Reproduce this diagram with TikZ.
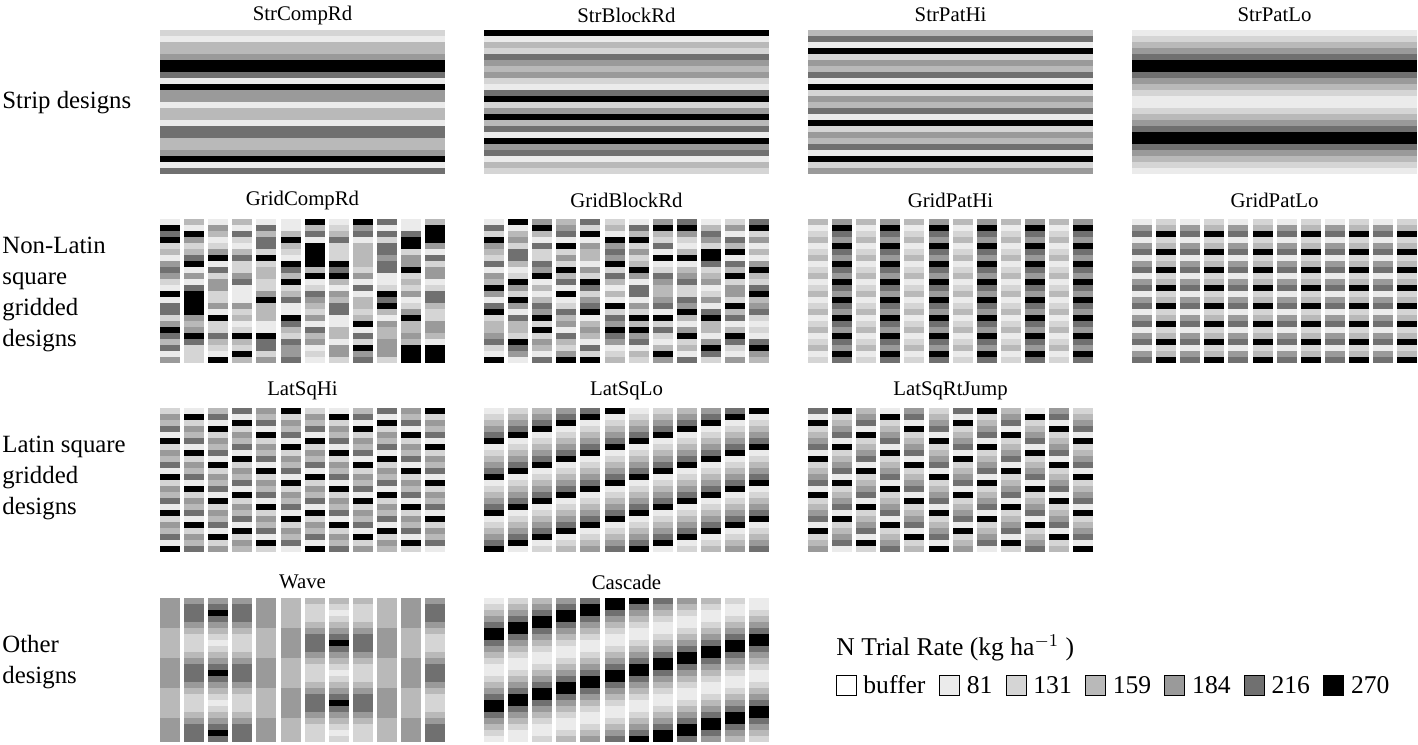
\documentclass[tikz,border=0pt]{standalone}
\usepackage{fontspec}
\setmainfont{Liberation Serif}
\definecolor{g0}{HTML}{FFFFFF}
\definecolor{g1}{HTML}{EBEBEB}
\definecolor{g2}{HTML}{D5D5D5}
\definecolor{g3}{HTML}{B9B9B9}
\definecolor{g4}{HTML}{9A9A9A}
\definecolor{g5}{HTML}{707070}
\definecolor{g6}{HTML}{000000}
\newcount\rowidx
\def\pcolloop#1{\ifx\relax#1\else\fill[fill=g#1] (\px,\py+6*\the\rowidx) rectangle ++(\pw,6.05);\global\advance\rowidx by 1\relax\expandafter\pcolloop\fi}
\newcommand\pcol[4]{\def\px{#1}\def\py{#2}\def\pw{#3}\global\rowidx=0 \edef\pcollist{#4}\expandafter\pcolloop\pcollist\relax}
\newcommand\gridpanel[3]{\foreach \s [count=\c from 0] in {#3} {\pcol{#1+24.1*\c}{#2}{20}{\s}}}
\tikzset{
  ttl/.style={font=\fontsize{10.4}{12}\selectfont, inner sep=0pt},
  side/.style={font=\fontsize{12.4}{15.5}\selectfont, align=left, anchor=west, inner sep=0pt},
  lbox/.style={draw=black, line width=0.5pt, minimum width=10pt, minimum height=10pt, inner sep=0pt},
  ltxt/.style={font=\fontsize{12.8}{14}\selectfont, anchor=west, inner sep=0pt}
}
\begin{document}
\begin{tikzpicture}[x=0.5pt,y=-0.5pt]
\fill[white] (0,0) rectangle (1418,744);
\useasboundingbox (0,0) rectangle (1418,744);
% ---------- row 1: strip designs
\pcol{160}{30}{285}{213346651644133155334615}
\pcol{484}{30}{285}{613254342156246351645132}
\pcol{808}{30}{285}{351624351624351624351624}
\pcol{1132}{30}{285}{123456654321123456654321}
% ---------- row 2
\gridpanel{160}{219}{165623145421615524653514,316423561415666643465222,143124615244224162253216,315213522451114231263263,153552623322463331165524,113632165362351165325445,635166663612543241534121,123522265631435511331442,645133332415133236152645,515255455112656314334442,115662446232412463343666,366641524412553224431666}
\gridpanel{484}{219}{152643251436415623345216,613425531264264153326541,463152254613135462624315,345162426351612534153246,526143314265245613431526,231645462531316254654123,153624236415514263645132,463251612543345162521364,564213613452254631462315,135426652341241563314652,241536153624426351365214,562413146325634521215643}
\gridpanel{808}{219}{312312312312312312312312,465465465465465465465465,312312312312312312312312,465465465465465465465465,312312312312312312312312,465465465465465465465465,312312312312312312312312,465465465465465465465465,312312312312312312312312,465465465465465465465465,312312312312312312312312,465465465465465465465465}
\gridpanel{1132}{219}{145145145145145145145145,236236236236236236236236,145145145145145145145145,236236236236236236236236,145145145145145145145145,236236236236236236236236,145145145145145145145145,236236236236236236236236,145145145145145145145145,236236236236236236236236,145145145145145145145145,236236236236236236236236}
% ---------- row 3
\gridpanel{160}{408}{243516243516243516243516,162435162435162435162435,351624351624351624351624,516243516243516243516243,435162435162435162435162,624351624351624351624351,243516243516243516243516,162435162435162435162435,351624351624351624351624,516243516243516243516243,435162435162435162435162,624351624351624351624351}
\gridpanel{484}{408}{123456123456123456123456,234561234561234561234561,345612345612345612345612,456123456123456123456123,561234561234561234561234,612345612345612345612345,123456123456123456123456,234561234561234561234561,345612345612345612345612,456123456123456123456123,561234561234561234561234,612345612345612345612345}
\gridpanel{808}{408}{516234516234516234516234,623451623451623451623451,345162345162345162345162,162345162345162345162345,451623451623451623451623,234516234516234516234516,516234516234516234516234,623451623451623451623451,345162345162345162345162,162345162345162345162345,451623451623451623451623,234516234516234516234516}
% ---------- row 4
\gridpanel{160}{598}{444443333344444333334444,455543222345554322234555,456543212345654321234565,455543222345554322234555,444443333344444333334444,333334444433333444443333,322234555432223455543222,321234565432123456543212,322234555432223455543222,333334444433333444443333,444443333344444333334444,455543222345554322234555}
\gridpanel{484}{598}{123456654321123456654321,234566543211234566543211,345665432112345665432112,456654321123456654321123,566543211234566543211234,665432112345665432112345,654321123456654321123456,543211234566543211234566,432112345665432112345665,321123456654321123456654,211234566543211234566543,112345665432112345665432}
% ---------- titles
\node[ttl] (t1) at (302.5,15) {StrCompRd};
\node[ttl] (t2) at (626.5,15) {StrBlockRd};
\node[ttl] (t3) at (950.5,15) {StrPatHi};
\node[ttl] (t4) at (1274.5,15) {StrPatLo};
\node[ttl] (t5) at (302.5,200) {GridCompRd};
\node[ttl] (t6) at (626.5,200) {GridBlockRd};
\node[ttl] (t7) at (950.5,200) {GridPatHi};
\node[ttl] (t8) at (1274.5,200) {GridPatLo};
\node[ttl] (t9) at (302.5,391) {LatSqHi};
\node[ttl] (t10) at (626.5,391) {LatSqLo};
\node[ttl] (t11) at (950.5,391) {LatSqRtJump};
\node[ttl] (t12) at (302.5,582) {Wave};
\node[ttl] (t13) at (626.5,582) {Cascade};
% ---------- side labels
\node[side] (s1) at (2,103) {Strip designs};
\node[side] (s2) at (2,294.5) {Non-Latin\\square\\gridded\\designs};
\node[side] (s3) at (2,478) {Latin square\\gridded\\designs};
\node[side] (s4) at (2,662) {Other\\designs};
% ---------- legend
\node[ltxt] (lt) at (836,648) {N Trial Rate (kg ha$^{-1}$ )};
\node[lbox, fill=g0] (b0) at (846,685) {};
\node[ltxt] (l0) at (863,685) {buffer};
\node[lbox, fill=g1] (b1) at (949.5,685) {};
\node[ltxt] (l1) at (966.5,685) {81};
\node[lbox, fill=g2] (b2) at (1016,685) {};
\node[ltxt] (l2) at (1033,685) {131};
\node[lbox, fill=g3] (b3) at (1095.4,685) {};
\node[ltxt] (l3) at (1112.4,685) {159};
\node[lbox, fill=g4] (b4) at (1174.8,685) {};
\node[ltxt] (l4) at (1191.8,685) {184};
\node[lbox, fill=g5] (b5) at (1254.2,685) {};
\node[ltxt] (l5) at (1271.2,685) {216};
\node[lbox, fill=g6] (b6) at (1333.6,685) {};
\node[ltxt] (l6) at (1350.6,685) {270};
\end{tikzpicture}
\end{document}
